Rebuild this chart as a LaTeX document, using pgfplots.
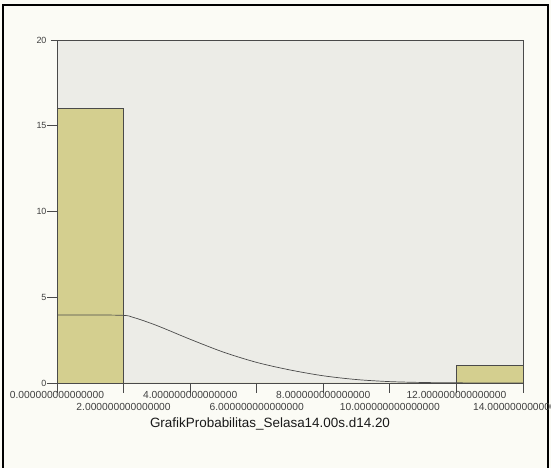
\documentclass[border=0pt]{standalone}
\usepackage{pgfplots}
\pgfplotsset{compat=1.18}
\usepackage{fontspec}
\setmainfont{Liberation Sans}

\definecolor{pagebg}{HTML}{FBFBF5}
\definecolor{plotbg}{HTML}{ECECE7}
\definecolor{barfill}{HTML}{D4CF8F}
\definecolor{axisgray}{HTML}{4A4A4A}

\begin{document}
\begin{tikzpicture}[x=1bp,y=1bp]
  % page background and frame
  \fill[pagebg] (0,0) rectangle (551,468);
  \draw[black, line width=1.4bp] (3,0) -- (3,463) -- (548,463) -- (548,0);

  \begin{axis}[
    at={(57bp,85bp)}, anchor=south west,
    scale only axis, width=466bp, height=343bp,
    xmin=0, xmax=14, ymin=0, ymax=20,
    axis background/.style={fill=plotbg},
    axis line style={axisgray, line width=0.8bp},
    % bin edges: labels alternate between two rows
    xtick={0,4,8,12},
    xticklabels={0.000000000000000, 4.000000000000000,
                 8.000000000000000, 12.000000000000000},
    extra x ticks={2,6,10,14},
    extra x tick labels={2.000000000000000, 6.000000000000000,
                         10.000000000000000, 14.000000000000000},
    extra x tick style={tick label style={yshift=-12bp}},
    ytick={0,5,10,15,20},
    tick align=outside,
    major tick length=10bp,
    x tick style={axisgray, line width=0.8bp},
    y tick style={axisgray, line width=0.8bp, shorten <=4bp},
    xtick pos=bottom, ytick pos=left,
    x tick label style={font=\fontsize{10.3}{11}\selectfont, text=black!75, yshift=5bp},
    y tick label style={font=\fontsize{9}{10}\selectfont, text=black!75, xshift=3bp},
    /pgf/number format/assume math mode=true,
    xlabel={GrafikProbabilitas\_Selasa14.00s.d14.20},
    xlabel style={font=\fontsize{13.5}{15}\selectfont, text=black!90, yshift=10bp, xshift=-20bp},
    clip=false,
  ]
    % histogram bins (width 2)
    \addplot[ybar interval, fill=barfill, draw=axisgray, line width=0.8bp]
      coordinates {(0,16) (2,0) (4,0) (6,0) (8,0) (10,0) (12,1) (14,1)};
    % fitted normal curve
    \addplot[axisgray, line width=0.7bp, smooth]
      coordinates {(0,3.97) (1.9,3.95) (2.3,3.82) (3,3.35) (4,2.55) (5,1.8)
                   (6,1.2) (7,0.76) (8,0.42) (9,0.2) (10,0.08) (11,0.03)
                   (12,0.01) (14,0)};
  \end{axis}
  \pgfresetboundingbox
  \useasboundingbox (0,0) rectangle (551,468);
\end{tikzpicture}
\end{document}
